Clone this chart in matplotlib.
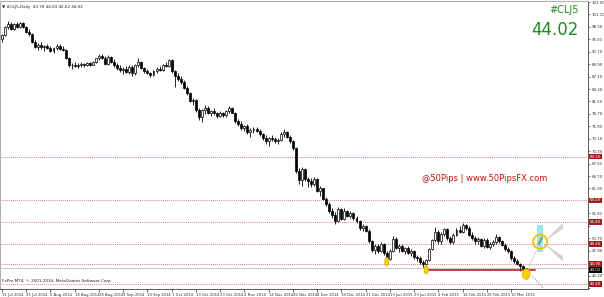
import matplotlib
matplotlib.use("Agg")
import matplotlib.pyplot as plt
from matplotlib.patches import Ellipse, Rectangle, Polygon

# daily OHLC of #CLJ5, 15 Jul 2014 .. 17 Mar 2015
opens = [95.6, 96.4, 98.2, 99.0, 97.9, 98.9, 98.3, 99.2, 98.2, 97.2, 96.8, 95.0, 93.8, 94.2, 93.7, 94.0,
         93.5, 92.9, 93.5, 94.1, 93.4, 93.1, 91.3, 89.6, 89.8, 89.5, 89.7, 89.9, 89.6, 90.2, 89.8, 90.5,
         91.2, 91.8, 91.3, 89.9, 91.6, 90.5, 89.7, 89.0, 88.5, 88.9, 88.2, 89.3, 87.8, 89.6, 90.4, 89.0,
         88.4, 87.9, 87.5, 88.3, 88.9, 88.6, 89.7, 89.5, 90.8, 88.3, 87.2, 86.6, 85.9, 84.6, 83.3, 81.7,
         81.9, 79.6, 78.0, 79.5, 80.1, 79.0, 79.3, 78.8, 78.2, 78.9, 78.4, 79.3, 80.1, 79.0, 77.0, 76.4,
         75.6, 76.0, 74.6, 75.1, 75.4, 74.9, 74.1, 73.3, 72.5, 73.2, 73.0, 72.6, 72.8, 74.2, 74.6, 73.6,
         72.5, 71.0, 65.9, 63.8, 66.2, 64.0, 63.6, 62.8, 64.1, 61.4, 61.9, 59.5, 58.3, 56.8, 56.0, 54.6,
         57.2, 55.1, 56.9, 55.8, 56.3, 55.3, 54.6, 53.0, 53.4, 52.3, 50.0, 48.0, 48.9, 47.8, 49.3, 47.4,
         46.0, 47.8, 50.6, 48.6, 49.0, 47.9, 48.5, 47.4, 47.9, 46.5, 46.2, 45.3, 44.9, 45.8, 48.3, 50.3,
         52.0, 50.0, 51.6, 52.7, 50.8, 49.8, 51.4, 52.6, 52.2, 53.6, 53.0, 51.5, 50.8, 50.0, 50.6, 49.0,
         50.4, 48.8, 49.5, 49.8, 50.9, 50.1, 49.2, 48.3, 47.8, 46.3, 45.5, 45.0, 44.4, 43.78]
highs = [96.6, 98.5, 99.6, 99.4, 99.2, 99.3, 99.5, 99.4, 98.6, 97.8, 97.0, 95.4, 94.6, 94.8, 94.3, 94.5,
         94.1, 93.8, 94.5, 94.4, 93.9, 93.4, 91.6, 90.2, 90.4, 90.1, 90.3, 90.2, 90.4, 90.5, 90.7, 91.4,
         92.1, 92.3, 91.8, 91.9, 91.8, 91.0, 90.2, 89.6, 89.3, 89.4, 89.8, 89.7, 89.9, 91.2, 90.6, 89.3,
         88.9, 88.2, 88.6, 89.2, 89.5, 90.0, 90.3, 91.1, 91.0, 88.6, 87.9, 87.2, 86.3, 84.9, 83.7, 82.2,
         82.0, 80.1, 79.9, 80.6, 80.4, 79.6, 80.0, 79.2, 79.3, 79.1, 79.6, 80.5, 80.3, 79.2, 77.6, 77.0,
         76.3, 76.5, 75.5, 75.8, 75.7, 75.2, 74.5, 74.0, 73.6, 73.9, 73.5, 73.2, 74.6, 75.3, 74.9, 73.9,
         72.8, 71.2, 66.6, 66.8, 66.5, 64.6, 64.3, 64.6, 64.3, 62.4, 62.0, 60.0, 58.9, 57.5, 56.6, 57.8,
         57.5, 57.4, 57.1, 56.8, 56.6, 55.8, 54.9, 53.9, 53.6, 52.7, 50.4, 49.5, 49.3, 49.8, 49.6, 47.8,
         48.2, 51.2, 50.9, 49.5, 49.4, 48.8, 48.9, 48.2, 48.1, 47.0, 46.6, 45.8, 46.1, 48.6, 50.6, 53.3,
         52.6, 52.2, 53.1, 53.0, 51.2, 51.8, 53.0, 53.4, 54.2, 54.0, 53.4, 52.1, 51.3, 51.0, 50.8, 50.8,
         50.7, 49.8, 50.4, 51.6, 51.2, 50.4, 49.6, 48.8, 48.1, 46.8, 46.0, 45.2, 44.6, 44.03]
lows = [94.8, 96.2, 97.8, 97.6, 97.5, 98.0, 98.1, 98.0, 96.9, 96.3, 94.6, 93.5, 93.2, 93.4, 92.9, 93.3,
        92.6, 92.5, 93.1, 93.2, 92.8, 91.0, 89.3, 88.9, 89.2, 89.0, 89.3, 89.2, 89.4, 89.5, 89.6, 90.1,
        90.8, 91.0, 89.6, 89.7, 90.2, 89.3, 88.6, 88.2, 87.7, 87.9, 87.6, 87.2, 87.5, 89.2, 88.7, 88.0,
        87.6, 87.1, 87.2, 88.0, 88.3, 88.4, 89.2, 89.3, 88.0, 84.8, 86.1, 85.4, 84.2, 82.9, 81.3, 80.6,
        79.2, 77.4, 76.8, 78.6, 78.7, 78.3, 78.5, 77.8, 77.9, 78.0, 78.1, 79.0, 78.8, 76.6, 75.9, 75.1,
        74.8, 74.2, 73.4, 74.5, 74.6, 73.7, 72.9, 72.0, 71.5, 72.6, 72.1, 71.9, 72.5, 73.6, 73.3, 72.2,
        70.6, 65.5, 63.0, 62.5, 63.5, 62.2, 62.3, 62.4, 61.0, 60.1, 59.2, 58.0, 56.4, 55.3, 53.8, 54.3,
        54.8, 54.9, 55.4, 55.2, 54.9, 54.2, 52.6, 52.3, 52.0, 49.6, 47.6, 47.2, 47.4, 47.5, 47.0, 45.4,
        45.7, 47.5, 48.3, 47.5, 47.6, 47.2, 47.1, 46.6, 46.1, 45.6, 45.0, 44.3, 43.6, 45.6, 48.0, 49.8,
        49.5, 49.3, 51.2, 50.4, 49.4, 49.5, 51.1, 51.9, 51.9, 52.6, 51.2, 50.4, 49.5, 49.3, 48.7, 48.6,
        48.5, 48.3, 49.0, 49.5, 49.7, 48.9, 47.9, 47.4, 45.9, 45.2, 44.6, 43.3, 43.2, 42.62]
closes = [96.4, 98.2, 99.0, 97.9, 98.9, 98.3, 99.2, 98.2, 97.2, 96.8, 95.0, 93.8, 94.2, 93.7, 94.0, 93.5,
          92.9, 93.5, 94.1, 93.4, 93.1, 91.3, 89.6, 89.8, 89.5, 89.7, 89.9, 89.6, 90.2, 89.8, 90.5, 91.2,
          91.8, 91.3, 89.9, 91.6, 90.5, 89.7, 89.0, 88.5, 88.9, 88.2, 89.3, 87.8, 89.6, 90.4, 89.0, 88.4,
          87.9, 87.5, 88.3, 88.9, 88.6, 89.7, 89.5, 90.8, 88.3, 87.2, 86.6, 85.9, 84.6, 83.3, 81.7, 81.9,
          79.6, 78.0, 79.5, 80.1, 79.0, 79.3, 78.8, 78.2, 78.9, 78.4, 79.3, 80.1, 79.0, 77.0, 76.4, 75.6,
          76.0, 74.6, 75.1, 75.4, 74.9, 74.1, 73.3, 72.5, 73.2, 73.0, 72.6, 72.8, 74.2, 74.6, 73.6, 72.5,
          71.0, 65.9, 63.8, 66.2, 64.0, 63.6, 62.8, 64.1, 61.4, 61.9, 59.5, 58.3, 56.8, 56.0, 54.6, 57.2,
          55.1, 56.9, 55.8, 56.3, 55.3, 54.6, 53.0, 53.4, 52.3, 50.0, 48.0, 48.9, 47.8, 49.3, 47.4, 46.0,
          47.8, 50.6, 48.6, 49.0, 47.9, 48.5, 47.4, 47.9, 46.5, 46.2, 45.3, 44.9, 45.8, 48.3, 50.3, 52.0,
          50.0, 51.6, 52.7, 50.8, 49.8, 51.4, 52.6, 52.2, 53.6, 53.0, 51.5, 50.8, 50.0, 50.6, 49.0, 50.4,
          48.8, 49.5, 49.8, 50.9, 50.1, 49.2, 48.3, 47.8, 46.3, 45.5, 45.0, 44.4, 43.8, 44.02]

date_labels = ["15 Jul 2014", "25 Jul 2014", "6 Aug 2014", "18 Aug 2014", "28 Aug 2014", "9 Sep 2014",
               "19 Sep 2014", "1 Oct 2014", "13 Oct 2014", "23 Oct 2014", "4 Nov 2014", "14 Nov 2014",
               "26 Nov 2014", "8 Dec 2014", "18 Dec 2014", "31 Dec 2014", "13 Jan 2015", "23 Jan 2015",
               "4 Feb 2015", "16 Feb 2015", "26 Feb 2015", "10 Mar 2015"]
date_bars = [0, 8, 16, 24, 32, 40, 48, 56, 64, 72, 80, 88, 96, 104, 112, 120, 128, 136, 144, 152, 160, 168]

price_ticks = [39.50, 42.30, 45.10, 47.90, 50.70, 53.50, 56.30, 59.10, 61.90, 64.70, 67.50, 70.30,
               73.10, 75.90, 78.70, 81.50, 84.30, 87.10, 89.90, 92.70, 95.50, 98.30, 101.10, 103.90]

levels = [69.10, 59.20, 54.40, 49.40, 44.90, 40.40]   # red dotted S/R lines
last_price = 44.02

# marked lows (bar, price) and the projection circle
low_marks = [(127, 45.4), (140, 43.6)]
last_mark = (173, 42.62)
support = 43.6
circle = (177.6, 49.9)
box = (176.6, 178.6, 47.6, 53.7)

fig = plt.figure(figsize=(6.04, 2.97), dpi=100)
ax = fig.add_axes([0.0, 0.027, 0.9735, 0.9697])
ax.set_xlim(-0.66, 193.4)
ax.set_ylim(39.27, 104.13)

# candles
for i in range(len(closes)):
    o, h, l, c = opens[i], highs[i], lows[i], closes[i]
    ax.vlines(i, l, h, color="black", lw=0.6, zorder=3)
    bull = c >= o
    ax.bar(i, max(abs(c - o), 0.12), bottom=min(o, c), width=0.65,
           color="white" if bull else "black", edgecolor="black", lw=0.5, zorder=4)

# levels
for lv in levels:
    ax.axhline(lv, color="#c85050", lw=0.6, ls=(0, (1, 1.5)), zorder=1)
ax.axhline(last_price, color="#c0c0c0", lw=0.6, zorder=1)

# support line and markers
ax.plot([low_marks[1][0], 176], [support, support], color="#a01414", lw=1.1, zorder=5)
for b, p in low_marks:
    ax.add_patch(Ellipse((b, p), 1.4, 1.9, facecolor="#f5d000", edgecolor="#e0b000", lw=0.5, zorder=6))
ax.add_patch(Ellipse(last_mark, 2.6, 2.4, facecolor="#f5d000", edgecolor="#e0b000", lw=0.5, zorder=6))

ax.add_patch(Rectangle((box[0], box[2]), box[1] - box[0], box[3] - box[2],
                       facecolor="#9fe3ec", edgecolor="none", zorder=2))
ax.add_patch(Polygon([(179.8, 50.5), (185.0, 53.9), (185.0, 52.9)], closed=True,
                     facecolor="#d4d4d4", edgecolor="#c8c8c8", lw=0.4, zorder=2))
ax.add_patch(Polygon([(179.8, 49.0), (185.0, 45.6), (185.0, 46.6)], closed=True,
                     facecolor="#d4d4d4", edgecolor="#c8c8c8", lw=0.4, zorder=2))
ax.plot([174.0, 176.3], [44.4, 47.8], color="#c8c8c8", lw=0.6, zorder=2)
ax.plot([175.0, 178.5], [42.2, 39.6], color="#c8c8c8", lw=0.8, zorder=2)
ax.add_patch(Ellipse(circle, 4.6, 3.2, facecolor="none", edgecolor="#f2c200", lw=1.3, zorder=7))
ax.plot([177.2, 178.2], [49.4, 50.8], color="#7a9a7a", lw=1.5, zorder=7)

# axes styling
for s in ["top", "left"]:
    ax.spines[s].set_color("#b0b0b0")
    ax.spines[s].set_linewidth(0.8)
for s in ["right", "bottom"]:
    ax.spines[s].set_color("#404040")
    ax.spines[s].set_linewidth(0.6)
ax.yaxis.tick_right()
ax.set_yticks(price_ticks)
# the terminal hides scale labels that sit under a price box
boxed = levels + [last_price]
ax.set_yticklabels(["" if min(abs(t - b) for b in boxed) < 1.0 else f"{t:.2f}" for t in price_ticks])
ax.tick_params(axis="y", labelsize=2.8, length=1.5, width=0.5, pad=1.2, colors="#303030")
ax.set_xticks(date_bars)
ax.set_xticklabels(date_labels, ha="left")
ax.tick_params(axis="x", labelsize=2.7, length=2, width=0.5, pad=1, colors="#303030")

# price boxes on the right scale
for lv in levels:
    ax.text(194.0, lv, f"{lv:.2f}", fontsize=2.8, color="white", va="center", ha="left",
            bbox=dict(boxstyle="square,pad=0.2", fc="#a01e1e", ec="none"), zorder=10, clip_on=False)
ax.text(194.0, last_price - 0.5, f"{last_price:.2f}", fontsize=2.8, color="white", va="center", ha="left",
        bbox=dict(boxstyle="square,pad=0.2", fc="black", ec="none"), zorder=10, clip_on=False)

# texts
ax.text(0.004, 0.985, "\u25bc #CLJ5,Daily  43.78 44.03 42.62 44.02", transform=ax.transAxes,
        fontsize=3.0, va="top", ha="left", color="#202020")
ax.text(0.984, 0.985, "#CLJ5", transform=ax.transAxes, fontsize=7, va="top", ha="right",
        color="#1e8c1e")
ax.text(0.984, 0.93, "44.02", transform=ax.transAxes, fontsize=12, va="top", ha="right",
        color="#1e8c1e")
ax.text(0.003, 0.02, "FxPro MT4, \u00a9 2001-2014, MetaQuotes Software Corp.", transform=ax.transAxes,
        fontsize=3.0, va="bottom", ha="left", color="#202020")
ax.text(0.718, 0.385, "@50Pips | www.50PipsFX.com", transform=ax.transAxes, fontsize=6,
        va="center", ha="left", color="#d01010")

fig.savefig("out.png", dpi=100)
